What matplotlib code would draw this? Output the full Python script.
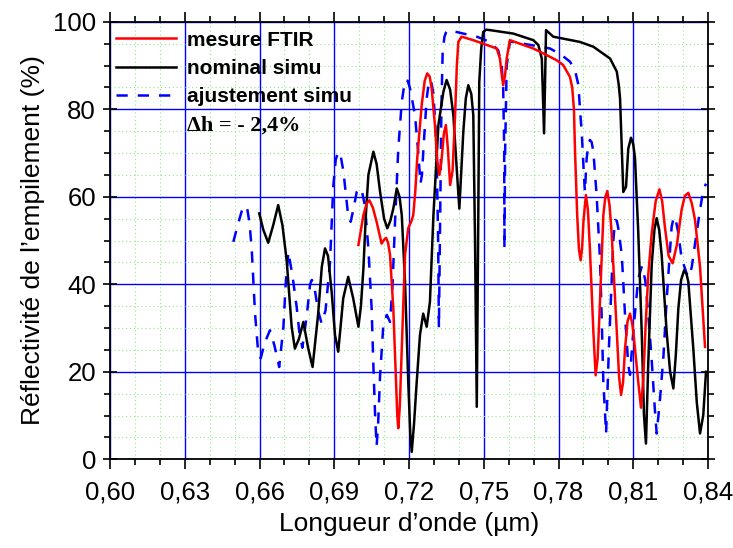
import matplotlib
matplotlib.use("Agg")
import matplotlib.pyplot as plt
from matplotlib.ticker import MultipleLocator, FuncFormatter, FixedLocator

# ---- data ----
mesure_x = [0.6997, 0.7017, 0.7030, 0.7041, 0.7055, 0.7070, 0.7090, 0.7100, 0.7108, 0.7116,
            0.7124, 0.7131, 0.7137, 0.7148, 0.7153, 0.7157, 0.7163, 0.7171, 0.7184, 0.7197,
            0.7210, 0.7217, 0.7225, 0.7233, 0.7251, 0.7263, 0.7273, 0.7283, 0.7291, 0.7304,
            0.7314, 0.7322, 0.7330, 0.7340, 0.7348, 0.7356, 0.7365, 0.7375, 0.7385, 0.7392,
            0.7398, 0.7411, 0.7458, 0.7552, 0.7565, 0.7572, 0.7578, 0.7585, 0.7592, 0.7605,
            0.7699, 0.7766, 0.7793, 0.7819, 0.7846, 0.7855, 0.7862, 0.7866, 0.7875, 0.7882,
            0.7889, 0.7895, 0.7900, 0.7910, 0.7918, 0.7926, 0.7940, 0.7949, 0.7957, 0.7967,
            0.7980, 0.7988, 0.7996, 0.8005, 0.8013, 0.8034, 0.8043, 0.8051, 0.8059, 0.8067,
            0.8077, 0.8087, 0.8096, 0.8103, 0.8120, 0.8131, 0.8140, 0.8150, 0.8160, 0.8174,
            0.8190, 0.8205, 0.8216, 0.8227, 0.8242, 0.8258, 0.8275, 0.8294, 0.8307, 0.8321,
            0.8335, 0.8348, 0.8368, 0.8388]
mesure_y = [49.0, 55.8, 58.5, 59.2, 57.5, 54.3, 49.3, 50.2, 50.6, 49.5,
            46.7, 40.0, 34.5, 17.7, 10.0, 7.1, 12.0, 25.3, 46.7, 52.8,
            54.5, 55.8, 61.0, 68.8, 81.0, 86.5, 88.2, 87.5, 84.8, 76.4,
            68.0, 65.0, 68.0, 74.5, 76.4, 71.0, 62.7, 66.0, 78.7, 90.0,
            95.4, 96.6, 95.8, 93.9, 91.6, 88.0, 85.5, 87.5, 91.6, 95.8,
            93.9, 92.0, 91.2, 90.1, 87.4, 85.0, 80.0, 71.0, 55.8, 48.0,
            45.5, 48.5, 54.3, 60.4, 57.0, 48.2, 29.1, 19.2, 23.0, 36.8,
            55.8, 60.0, 61.3, 58.0, 52.0, 29.1, 19.0, 14.7, 17.5, 25.3,
            31.5, 33.3, 31.0, 27.6, 17.7, 11.8, 18.0, 31.0, 42.0, 51.6,
            59.0, 61.7, 59.0, 53.1, 46.5, 44.8, 49.0, 57.0, 60.2, 60.9,
            58.5, 54.7, 44.0, 25.7]

nominal_x = [0.6599, 0.6615, 0.6635, 0.6655, 0.6675, 0.6692, 0.6709, 0.6729, 0.6742, 0.6758,
             0.6776, 0.6795, 0.6813, 0.6835, 0.6850, 0.6863, 0.6875, 0.6890, 0.6903, 0.6916,
             0.6936, 0.6956, 0.6976, 0.6997, 0.7007, 0.7017, 0.7027, 0.7037, 0.7057, 0.7070,
             0.7084, 0.7100, 0.7113, 0.7125, 0.7137, 0.7151, 0.7162, 0.7171, 0.7184, 0.7197,
             0.7205, 0.7211, 0.7220, 0.7231, 0.7244, 0.7257, 0.7271, 0.7284, 0.7298, 0.7318,
             0.7338, 0.7351, 0.7365, 0.7378, 0.7392, 0.7402, 0.7410, 0.7418, 0.7428, 0.7438,
             0.7450, 0.7458, 0.7465, 0.7472, 0.7478, 0.7482, 0.7490, 0.7498, 0.7510, 0.7525,
             0.7619, 0.7699, 0.7719, 0.7733, 0.7742, 0.7750, 0.7779, 0.7886, 0.7940, 0.8007,
             0.8034, 0.8042, 0.8047, 0.8054, 0.8060, 0.8071, 0.8080, 0.8091, 0.8100, 0.8107,
             0.8120, 0.8134, 0.8143, 0.8151, 0.8160, 0.8174, 0.8185, 0.8194, 0.8204, 0.8214,
             0.8234, 0.8248, 0.8261, 0.8271, 0.8281, 0.8292, 0.8304, 0.8314, 0.8321, 0.8341,
             0.8355, 0.8368, 0.8381, 0.8392]
nominal_y = [56.2, 52.5, 49.5, 53.5, 58.1, 53.5, 45.5, 30.3, 25.3, 27.5,
             31.4, 25.5, 21.1, 33.0, 44.0, 48.2, 46.5, 38.0, 28.4, 24.6,
             36.8, 41.7, 36.8, 30.3, 35.0, 43.6, 56.0, 65.0, 70.3, 67.5,
             61.1, 55.0, 52.8, 54.5, 57.3, 61.9, 60.0, 55.8, 40.6, 17.7,
             6.0, 1.7, 8.0, 17.7, 28.4, 33.3, 30.3, 36.0, 55.8, 76.4,
             84.0, 86.7, 84.5, 78.7, 66.0, 57.3, 66.0, 74.9, 82.5, 85.5,
             83.5, 78.7, 50.0, 12.0, 55.0, 86.3, 94.0, 97.7, 98.2, 98.1,
             97.3, 95.8, 94.7, 91.6, 74.5, 98.1, 96.6, 95.4, 94.3, 91.6,
             88.6, 85.5, 82.5, 71.0, 61.1, 62.3, 71.0, 73.5, 72.0, 68.8,
             52.0, 29.1, 10.1, 3.6, 21.5, 44.4, 52.5, 55.1, 52.5, 46.7,
             29.1, 20.0, 16.2, 24.0, 34.5, 41.0, 43.2, 42.3, 40.6, 25.3,
             13.0, 5.9, 10.1, 20.0]

ajust_x = [0.6495, 0.6510, 0.6530, 0.6549, 0.6560, 0.6569, 0.6582, 0.6595, 0.6605, 0.6620,
           0.6642, 0.6660, 0.6679, 0.6696, 0.6705, 0.6716, 0.6733, 0.6749, 0.6760, 0.6772,
           0.6790, 0.6803, 0.6810, 0.6820, 0.6835, 0.6849, 0.6865, 0.6883, 0.6896, 0.6906,
           0.6916, 0.6927, 0.6937, 0.6957, 0.6966, 0.6980, 0.6990, 0.7000, 0.7012, 0.7023,
           0.7037, 0.7050, 0.7057, 0.7064, 0.7070, 0.7076, 0.7084, 0.7097, 0.7111, 0.7124,
           0.7134, 0.7144, 0.7157, 0.7171, 0.7184, 0.7195, 0.7204, 0.7224, 0.7238, 0.7246,
           0.7252, 0.7258, 0.7271, 0.7281, 0.7290, 0.7298, 0.7310, 0.7317, 0.7320, 0.7324,
           0.7330, 0.7335, 0.7342, 0.7348, 0.7358, 0.7418, 0.7472, 0.7525, 0.7558, 0.7572,
           0.7578, 0.7582, 0.7583, 0.7586, 0.7592, 0.7605, 0.7699, 0.7766, 0.7810, 0.7846,
           0.7866, 0.7880, 0.7886, 0.7893, 0.7900, 0.7906, 0.7913, 0.7920, 0.7926, 0.7933,
           0.7940, 0.7953, 0.7967, 0.7973, 0.7980, 0.7991, 0.8002, 0.8013, 0.8020, 0.8027,
           0.8034, 0.8040, 0.8054, 0.8067, 0.8080, 0.8087, 0.8100, 0.8120, 0.8135, 0.8148,
           0.8161, 0.8174, 0.8186, 0.8194, 0.8207, 0.8221, 0.8234, 0.8254, 0.8262, 0.8268,
           0.8280, 0.8294, 0.8314, 0.8325, 0.8335, 0.8348, 0.8368, 0.8381, 0.8392]
ajust_y = [49.7, 53.0, 57.0, 57.9, 54.0, 47.8, 33.4, 24.2, 23.1, 26.5,
           29.5, 26.0, 21.1, 30.3, 40.0, 47.4, 41.7, 34.9, 29.0, 25.5,
           33.0, 40.0, 41.0, 39.5, 34.0, 31.1, 34.0, 45.0, 62.3, 68.5,
           70.3, 69.0, 65.7, 55.1, 54.3, 58.0, 61.1, 62.0, 61.0, 58.0,
           48.2, 34.5, 21.5, 10.0, 3.0, 8.0, 19.2, 30.7, 33.0, 31.4,
           40.0, 54.3, 71.0, 81.7, 86.7, 86.5, 84.8, 78.7, 69.5, 63.0,
           65.0, 71.0, 82.5, 86.7, 86.0, 83.6, 72.0, 50.0, 30.0, 50.0,
           80.0, 93.0, 96.5, 97.5, 98.1, 97.3, 96.6, 95.4, 93.5, 90.1,
           84.8, 71.0, 48.2, 71.0, 90.0, 95.5, 94.6, 93.9, 92.5, 90.9,
           89.0, 85.5, 80.2, 74.9, 67.2, 61.1, 68.8, 72.0, 73.0, 72.5,
           70.3, 60.4, 45.1, 33.0, 17.7, 5.9, 25.0, 40.6, 50.0, 54.7,
           54.5, 52.8, 46.7, 33.0, 21.5, 19.3, 29.1, 41.3, 44.2, 41.0,
           32.6, 22.7, 12.0, 5.9, 13.5, 23.4, 36.4, 53.1, 55.2, 55.4,
           52.0, 46.0, 42.5, 41.7, 44.0, 49.3, 57.0, 61.5, 63.0]

labels = ["mesure FTIR", "nominal simu", "ajustement simu", "\u0394h = - 2,4%"]
x_ticks = [0.60, 0.63, 0.66, 0.69, 0.72, 0.75, 0.78, 0.81, 0.84]
y_ticks = [0, 20, 40, 60, 80, 100]
xlabel = "Longueur d\u2019onde (\u00b5m)"
ylabel = "R\u00e9flectivit\u00e9 de l\u2019empilement (%)"

# ---- figure ----
plt.rcParams['font.family'] = ['Liberation Sans', 'DejaVu Sans']
fig = plt.figure(figsize=(7.33, 5.48), dpi=100)
ax = fig.add_axes([110/733, (548-459.3)/548, 598/733, 437.5/548])

lw = 1.8
l1, = ax.plot(mesure_x, mesure_y, color='#ff0000', lw=lw, zorder=4)
l2, = ax.plot(nominal_x, nominal_y, color='black', lw=lw, zorder=3)
l3, = ax.plot(ajust_x, ajust_y, color='#0000ff', lw=lw, ls=(0, (4.5, 4)), zorder=2)
l4, = ax.plot([], [], color='none')

ax.set_xlim(0.60, 0.84)
ax.set_ylim(0, 100)
ax.xaxis.set_major_locator(FixedLocator(x_ticks))
ax.xaxis.set_minor_locator(MultipleLocator(0.01))
ax.yaxis.set_major_locator(FixedLocator(y_ticks))
ax.yaxis.set_minor_locator(MultipleLocator(5))
ax.xaxis.set_major_formatter(FuncFormatter(lambda v, p: f"{v:.2f}".replace('.', ',')))
ax.yaxis.set_major_formatter(FuncFormatter(lambda v, p: f"{v:.0f}"))

ax.grid(which='minor', color='#8fe88f', ls=(0, (1, 2.5)), lw=0.8, zorder=0)
ax.grid(which='major', color='#0000ff', ls='-', lw=1.0, zorder=1)
ax.set_axisbelow(True)

for s in ax.spines.values():
    s.set_linewidth(1.3)
    s.set_zorder(5)

ax.tick_params(axis='x', which='major', direction='out', length=7, width=1.2,
               top=True, labelsize=18.5, pad=8)
ax.tick_params(axis='x', which='minor', direction='out', length=4.5, width=1.2, top=True)
ax.tick_params(axis='y', which='major', direction='inout', length=10, width=1.2,
               right=True, labelsize=18.5, pad=5)
ax.tick_params(axis='y', which='minor', direction='out', length=4.5, width=1.2, right=True)

ax.set_xlabel(xlabel, fontsize=19, labelpad=6)
ax.set_ylabel(ylabel, fontsize=19, labelpad=6)

leg = ax.legend([l1, l2, l3, l4], labels, loc='upper left', bbox_to_anchor=(0.01, 0.980),
                frameon=False, borderpad=0, borderaxespad=0, handlelength=2.9,
                handletextpad=0.5, labelspacing=0.45,
                prop={'size': 15, 'weight': 'bold'})
t4 = leg.get_texts()[3]
t4.set_fontfamily(['Liberation Serif', 'DejaVu Serif'])
t4.set_fontsize(16)

fig.savefig("out.png", dpi=100)
